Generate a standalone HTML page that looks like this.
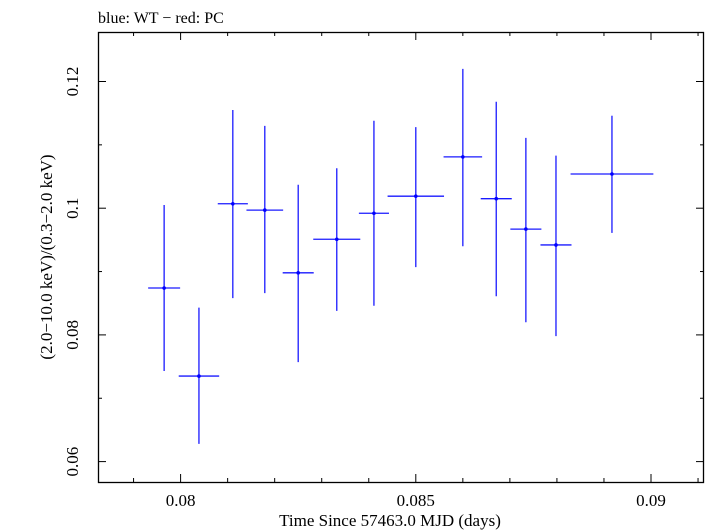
<!DOCTYPE html>
<html><head><meta charset="utf-8"><style>
body{margin:0;background:#fff}
svg{display:block;font-family:"Liberation Serif",serif}
</style></head><body>
<svg id="c" width="705" height="532">
<text x="98" y="23" font-size="16">blue: WT − red: PC</text>
<rect x="98.5" y="32.5" width="605" height="450" fill="none" stroke="#000" stroke-width="1.3"/>
<g id="ticks"></g>
<g id="marks"></g>
<text x="390" y="526" font-size="17" text-anchor="middle">Time Since 57463.0 MJD (days)</text>
<text transform="translate(52,257) rotate(-90)" font-size="17" text-anchor="middle">(2.0−10.0 keV)/(0.3−2.0 keV)</text>
</svg>
<script>
const xs=[0.07965,0.08039,0.08111,0.08179,0.0825,0.08332,0.08411,0.085,0.086,0.08671,0.08734,0.08798,0.08917];
const xerr=[0.00034,0.00043,0.00032,0.00039,0.00033,0.0005,0.00032,0.0006,0.00041,0.00033,0.00033,0.00033,0.00088];
const ys=[0.0874,0.0735,0.1007,0.0997,0.0898,0.0951,0.0992,0.1019,0.1081,0.1015,0.0967,0.0942,0.1054];
const yhi=[0.1005,0.0843,0.1155,0.113,0.1037,0.1063,0.1138,0.1128,0.122,0.1168,0.1111,0.1083,0.1146];
const ylo=[0.0743,0.0628,0.0858,0.0866,0.0757,0.0838,0.0846,0.0907,0.094,0.0861,0.082,0.0798,0.0961];
const xTicks=["0.08","0.085","0.09"];
const yTicks=["0.06","0.08","0.1","0.12"];
const X=v=>180.6+(v-0.08)*47040;
const Y=v=>208.2-(v-0.1)*6335;
const NS="http://www.w3.org/2000/svg";
const tk=document.getElementById('ticks'),mk=document.getElementById('marks');
function ln(p,x1,y1,x2,y2,c,w){const l=document.createElementNS(NS,'line');l.setAttribute('x1',x1);l.setAttribute('y1',y1);l.setAttribute('x2',x2);l.setAttribute('y2',y2);l.setAttribute('stroke',c);l.setAttribute('stroke-width',w);p.appendChild(l);return l;}
for(let i=79;i<=91;i++){const v=i/1000,x=X(v),maj=i%5==0,L=maj?8:4;
 const a=ln(tk,x,482,x,482-L,'#000',1);


 const b=ln(tk,x,32,x,32+L,'#000',1);

}
for(let i=6;i<=12;i++){const v=i/100,y=Y(v),maj=i%2==0,L=maj?8:4;
 const a=ln(tk,98,y,98+L,y,'#000',1);


 const b=ln(tk,704,y,704-L,y,'#000',1);

}
xTicks.forEach(s=>{const t=document.createElementNS(NS,'text');t.setAttribute('x',X(parseFloat(s)));t.setAttribute('y',506);t.setAttribute('font-size','17');t.setAttribute('text-anchor','middle');t.textContent=s;


tk.appendChild(t);});
yTicks.forEach(s=>{const t=document.createElementNS(NS,'text');const y=Y(parseFloat(s));t.setAttribute('transform','translate(78,'+y+') rotate(-90)');t.setAttribute('font-size','17');t.setAttribute('text-anchor','middle');t.textContent=s;


tk.appendChild(t);});
xs.forEach((x,i)=>{const g=document.createElementNS(NS,'g');


 ln(g,X(x-xerr[i]),Y(ys[i]),X(x+xerr[i]),Y(ys[i]),'#1a1aff',1.3);
 ln(g,X(x),Y(yhi[i]),X(x),Y(ylo[i]),'#1a1aff',1.3);
 const c=document.createElementNS(NS,'circle');c.setAttribute('cx',X(x));c.setAttribute('cy',Y(ys[i]));c.setAttribute('r',1.8);c.setAttribute('fill','#00f');g.appendChild(c);
 mk.appendChild(g);});
</script>
</body></html>
